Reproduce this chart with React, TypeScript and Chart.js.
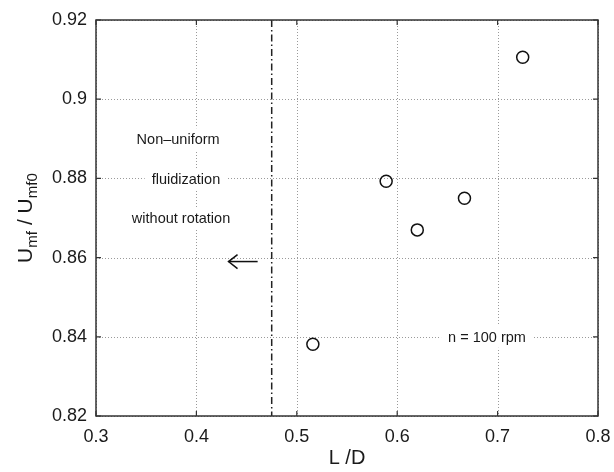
import React, { useEffect, useRef } from 'react';
import { Chart, registerables } from 'chart.js';

Chart.register(...registerables);

// ---- data ----
const ldValues = [0.516, 0.589, 0.620, 0.667, 0.725];
const umfRatio = [0.8381, 0.8793, 0.8670, 0.8750, 0.9106];

const xTickValues = [0.3, 0.4, 0.5, 0.6, 0.7, 0.8];
const xTickLabels = ['0.3', '0.4', '0.5', '0.6', '0.7', '0.8'];
const yTickValues = [0.82, 0.84, 0.86, 0.88, 0.9, 0.92];
const yTickLabels = ['0.82', '0.84', '0.86', '0.88', '0.9', '0.92'];

const transitionLD = 0.475;
const arrowStart = [0.461, 0.859];
const arrowEnd = [0.432, 0.859];

const noteTexts = ['Non\u2013uniform', 'fluidization', 'without rotation', 'n = 100 rpm'];
const noteX = [0.3818, 0.3896, 0.3847, 0.6894];
const noteY = [0.8899, 0.8798, 0.8700, 0.8400];

const xTitle = 'L /D';
const yTitleParts: [string, boolean][] = [['U', false], ['mf', true], [' / U', false], ['mf0', true]];

const FONT = '"Liberation Sans", Arial, Helvetica, sans-serif';

function drawParts(ctx: CanvasRenderingContext2D, parts: [string, boolean][], cx: number, baseY: number, size: number) {
  const sub = size * 0.72;
  let total = 0;
  const widths = parts.map(([t, s]) => {
    ctx.font = `${s ? sub : size}px ${FONT}`;
    const w = ctx.measureText(t).width;
    total += w;
    return w;
  });
  let x = cx - total / 2;
  ctx.textAlign = 'left';
  ctx.textBaseline = 'alphabetic';
  parts.forEach(([t, s], i) => {
    ctx.font = `${s ? sub : size}px ${FONT}`;
    ctx.fillText(t, x, baseY + (s ? size * 0.22 : 0));
    x += widths[i];
  });
}

const decor = {
  id: 'decor',
  beforeDatasetsDraw(chart: any) {
    const { ctx, chartArea: a, scales } = chart;
    const xs = scales.x, ys = scales.y;
    ctx.save();
    // dotted grid
    ctx.strokeStyle = '#9a9a9a';
    ctx.lineWidth = 1;
    ctx.setLineDash([1, 2]);
    xTickValues.forEach(v => {
      const px = Math.round(xs.getPixelForValue(v)) + 0.5;
      ctx.beginPath(); ctx.moveTo(px, a.top); ctx.lineTo(px, a.bottom); ctx.stroke();
    });
    yTickValues.forEach(v => {
      const py = Math.round(ys.getPixelForValue(v)) + 0.5;
      ctx.beginPath(); ctx.moveTo(a.left, py); ctx.lineTo(a.right, py); ctx.stroke();
    });
    ctx.setLineDash([]);

    // notes with white boxes
    const fs = 14.5;
    ctx.font = `${fs}px ${FONT}`;
    noteTexts.forEach((t, i) => {
      const cx = xs.getPixelForValue(noteX[i]);
      const cy = ys.getPixelForValue(noteY[i]);
      const w = ctx.measureText(t).width;
      ctx.fillStyle = '#ffffff';
      ctx.fillRect(cx - w / 2 - 7, cy - 11, w + 14, 22);
    });
    ctx.fillStyle = '#1a1a1a';
    ctx.textAlign = 'center';
    ctx.textBaseline = 'alphabetic';
    noteTexts.forEach((t, i) => {
      const cx = xs.getPixelForValue(noteX[i]);
      const cy = ys.getPixelForValue(noteY[i]);
      ctx.fillText(t, cx, cy + fs * 0.36);
    });

    // dash-dot transition line
    const tx = xs.getPixelForValue(transitionLD);
    ctx.strokeStyle = '#222';
    ctx.lineWidth = 1.5;
    ctx.setLineDash([7, 3, 1.5, 3]);
    ctx.beginPath(); ctx.moveTo(tx, a.top); ctx.lineTo(tx, a.bottom); ctx.stroke();
    ctx.setLineDash([]);

    // arrow
    const x0 = xs.getPixelForValue(arrowStart[0]);
    const y0 = ys.getPixelForValue(arrowStart[1]);
    const x1 = xs.getPixelForValue(arrowEnd[0]);
    const y1 = ys.getPixelForValue(arrowEnd[1]);
    ctx.strokeStyle = '#111';
    ctx.lineWidth = 1.5;
    ctx.beginPath(); ctx.moveTo(x0, y0); ctx.lineTo(x1, y1); ctx.stroke();
    ctx.beginPath();
    ctx.moveTo(x1 + 9, y1 - 7); ctx.lineTo(x1, y1); ctx.lineTo(x1 + 9, y1 + 7);
    ctx.stroke();

    // box
    ctx.strokeStyle = '#333';
    ctx.lineWidth = 1.5;
    ctx.strokeRect(a.left, a.top, a.right - a.left, a.bottom - a.top);
    // inward ticks
    ctx.lineWidth = 1.2;
    const tl = 5;
    xTickValues.forEach(v => {
      const px = xs.getPixelForValue(v);
      ctx.beginPath();
      ctx.moveTo(px, a.bottom); ctx.lineTo(px, a.bottom - tl);
      ctx.moveTo(px, a.top); ctx.lineTo(px, a.top + tl);
      ctx.stroke();
    });
    yTickValues.forEach(v => {
      const py = ys.getPixelForValue(v);
      ctx.beginPath();
      ctx.moveTo(a.left, py); ctx.lineTo(a.left + tl, py);
      ctx.moveTo(a.right, py); ctx.lineTo(a.right - tl, py);
      ctx.stroke();
    });
    ctx.restore();
  },
  afterDraw(chart: any) {
    const { ctx, chartArea: a } = chart;
    ctx.save();
    ctx.fillStyle = '#1a1a1a';
    // x title
    ctx.font = `20px ${FONT}`;
    ctx.textAlign = 'center';
    ctx.textBaseline = 'alphabetic';
    ctx.fillText(xTitle, (a.left + a.right) / 2, 464);
    // y title rotated
    ctx.translate(32, (a.top + a.bottom) / 2);
    ctx.rotate(-Math.PI / 2);
    drawParts(ctx, yTitleParts, 0, 0, 21);
    ctx.restore();
  },
};

export default function App() {
  const ref = useRef<HTMLCanvasElement | null>(null);
  useEffect(() => {
    if (!ref.current) return;
    const tickFont = { size: 18, family: FONT };
    const chart = new Chart(ref.current, {
      type: 'scatter',
      data: {
        datasets: [{
          data: ldValues.map((x, i) => ({ x, y: umfRatio[i] })),
          pointStyle: 'circle',
          pointRadius: 6,
          pointHoverRadius: 6,
          pointBorderWidth: 1.5,
          pointBorderColor: '#111',
          pointBackgroundColor: 'rgba(255,255,255,0)',
          showLine: false,
        }],
      },
      options: {
        animation: false,
        responsive: false,
        layout: { padding: { left: 0, right: 16, top: 20, bottom: 0 } },
        plugins: { legend: { display: false }, tooltip: { enabled: false } },
        scales: {
          x: {
            type: 'linear', min: 0.3, max: 0.8,
            grid: { display: false, drawTicks: false },
            border: { display: false },
            afterBuildTicks: (s: any) => { s.ticks = xTickValues.map(v => ({ value: v })); },
            afterFit: (s: any) => { s.height = 56; s.paddingLeft = 0; s.paddingRight = 0; },
            ticks: {
              callback: (_v: any, i: number) => xTickLabels[i],
              font: tickFont, color: '#1a1a1a', padding: 10, maxRotation: 0, autoSkip: false,
            },
          },
          y: {
            type: 'linear', min: 0.82, max: 0.92,
            grid: { display: false, drawTicks: false },
            border: { display: false },
            afterBuildTicks: (s: any) => { s.ticks = yTickValues.map(v => ({ value: v })); },
            afterFit: (s: any) => { s.width = 96; s.paddingTop = 0; s.paddingBottom = 0; },
            ticks: {
              callback: (_v: any, i: number) => yTickLabels[i],
              font: tickFont, color: '#1a1a1a', padding: 9, autoSkip: false,
            },
          },
        },
      } as any,
      plugins: [decor],
    });
    return () => chart.destroy();
  }, []);
  return (
    <div style={{ position: 'absolute', left: 0, top: 0, width: 614, height: 472, background: '#fff' }}>
      <canvas ref={ref} width={614} height={472} />
    </div>
  );
}
